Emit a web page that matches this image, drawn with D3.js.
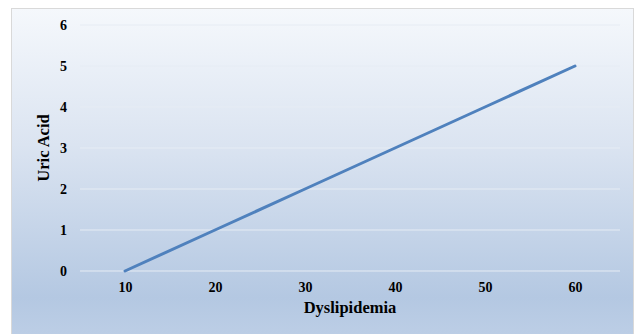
<!DOCTYPE html>
<html><head><meta charset="utf-8">
<script src="https://cdn.jsdelivr.net/npm/d3@7"></script>
<style>body{margin:0;background:#fff}svg{display:block}</style>
</head><body>
<svg id="c" width="639" height="334"></svg>
<script>
const categories = ["10","20","30","40","50","60"];
const values = [0,1,2,3,4,5];
const yTicks = [0,1,2,3,4,5,6];

(function(){
const svg = d3.select("#c");
const defs = svg.append("defs");
const g = defs.append("linearGradient").attr("id","bg").attr("x1",0).attr("y1",0).attr("x2",0).attr("y2",1);
g.append("stop").attr("offset","0%").attr("stop-color","#f5f8fc");
g.append("stop").attr("offset","40%").attr("stop-color","#dbe4f1");
g.append("stop").attr("offset","85%").attr("stop-color","#b4c8e2");
g.append("stop").attr("offset","100%").attr("stop-color","#bfd0e7");

svg.append("rect").attr("x",11.5).attr("y",8.5).attr("width",622).attr("height",340)
  .attr("fill","url(#bg)").attr("stroke","#d9d9d9").attr("stroke-width",1);

const pl=80, pr=620, pt=25, pb=271;
const x = d3.scalePoint().domain(categories).range([pl,pr]).padding(0.5);
const y = d3.scaleLinear().domain([0,6]).range([pb,pt]);

const grid = svg.append("g");
grid.selectAll("line").data(yTicks).join("line")
  .attr("x1",pl).attr("x2",pr).attr("y1",d=>y(d)).attr("y2",d=>y(d))
  .attr("stroke","#e6ecf4").attr("stroke-width",1);

const font = "'Liberation Serif','Times New Roman',serif";
const yAxis = svg.append("g").attr("transform",`translate(${pl},0)`)
  .call(d3.axisLeft(y).tickValues(yTicks).tickFormat(d3.format("d")).tickSize(0).tickPadding(13));
yAxis.select(".domain").remove();
yAxis.selectAll("text").attr("font-family",font).attr("font-weight","bold").attr("font-size",14).attr("fill","#000");

const xAxis = svg.append("g").attr("transform",`translate(0,${pb})`)
  .call(d3.axisBottom(x).tickSize(0).tickPadding(11));
xAxis.select(".domain").remove();
xAxis.selectAll("text").attr("font-family",font).attr("font-weight","bold").attr("font-size",14).attr("fill","#000");

const line = d3.line().x((d,i)=>x(categories[i])).y(d=>y(d));
svg.append("path").datum(values).attr("d",line).attr("fill","none")
  .attr("stroke","#4f81bd").attr("stroke-width",3).attr("stroke-linecap","round");

svg.append("text").attr("x",350).attr("y",313).attr("text-anchor","middle")
  .attr("font-family",font).attr("font-weight","bold").attr("font-size",16.5).text("Dyslipidemia");
svg.append("text").attr("transform",`translate(49,${(pt+pb)/2}) rotate(-90)`).attr("text-anchor","middle")
  .attr("font-family",font).attr("font-weight","bold").attr("font-size",16.5).text("Uric Acid");
})();
</script>
</body></html>
